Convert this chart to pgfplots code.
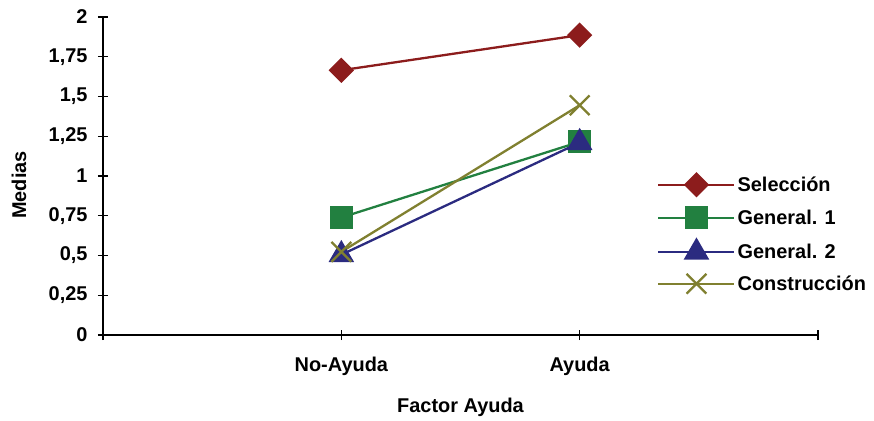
\documentclass[border=0pt]{standalone}
\usepackage{fontspec}
\setmainfont{Liberation Sans}
\usepackage{pgfplots}
\pgfplotsset{compat=1.18}
\definecolor{cSel}{HTML}{8C1C1C}
\definecolor{cGen1}{HTML}{228040}
\definecolor{cGen2}{HTML}{2B2B80}
\definecolor{cCon}{HTML}{808030}
\begin{document}
\begin{tikzpicture}[x=1bp,y=1bp]
\begin{axis}[
  at={(0,0)}, anchor=south west,
  scale only axis, width=715bp, height=318bp,
  xmin=0, xmax=3, ymin=0, ymax=2,
  axis x line*=bottom, axis y line*=left,
  axis line style={black, line width=1.8bp},
  every outer x axis line/.append style={-}, every outer y axis line/.append style={-},
  xtick={0,1,2,3}, xticklabels={,No-Ayuda,Ayuda,},
  ytick={0,0.25,0.5,0.75,1,1.25,1.5,1.75,2},
  /pgf/number format/use comma,
  /pgf/number format/assume math mode=true,
  tick align=center, major tick length=10bp,
  tick style={black, line width=1.4bp},
  font=\fontsize{20}{24}\selectfont\bfseries,
  ticklabel style={font=\fontsize{20}{24}\selectfont\bfseries},
  yticklabel style={xshift=-7bp},
  xticklabel style={yshift=-14bp},
  xlabel={Factor Ayuda}, ylabel={Medias},
  xlabel style={at={(axis description cs:0.5,-0.227)}, anchor=center},
  ylabel style={at={(axis description cs:-0.1175,0.472)}, anchor=center, rotate=0},
  legend style={draw=none, fill=none, at={(axis description cs:0.775,0.508)}, anchor=north west,
    row sep=11.5bp, font=\fontsize{20}{24}\selectfont\bfseries, inner sep=0pt},
  legend cell align=left,
  legend image code/.code={\draw[mark repeat=2, mark phase=2] plot coordinates {(0bp,0bp) (38bp,0bp) (76bp,0bp)};},
  clip=false,
]
\addplot[cSel, line width=2.3bp, mark=square*, mark size=7.8bp, mark options={solid, fill=cSel, rotate=45}] coordinates {(1,1.665) (2,1.886)};
\addlegendentry{Selección}
\addplot[cGen1, line width=2.3bp, mark=square*, mark size=10.5bp, mark options={solid, fill=cGen1}] coordinates {(1,0.739) (2,1.215)};
\addlegendentry{General. 1}
\addplot[cGen2, line width=2.3bp, mark=triangle*, mark size=12.5bp, mark options={solid, fill=cGen2}] coordinates {(1,0.505) (2,1.21)};
\addlegendentry{General. 2}
\addplot[cCon, line width=2.3bp, mark=x, mark size=14bp, mark options={solid, line width=2.3bp}] coordinates {(1,0.523) (2,1.445)};
\addlegendentry{Construcción}
\end{axis}
\pgfresetboundingbox
\path[use as bounding box] (-103bp,-86bp) rectangle (771bp,335bp);
\end{tikzpicture}
\end{document}
